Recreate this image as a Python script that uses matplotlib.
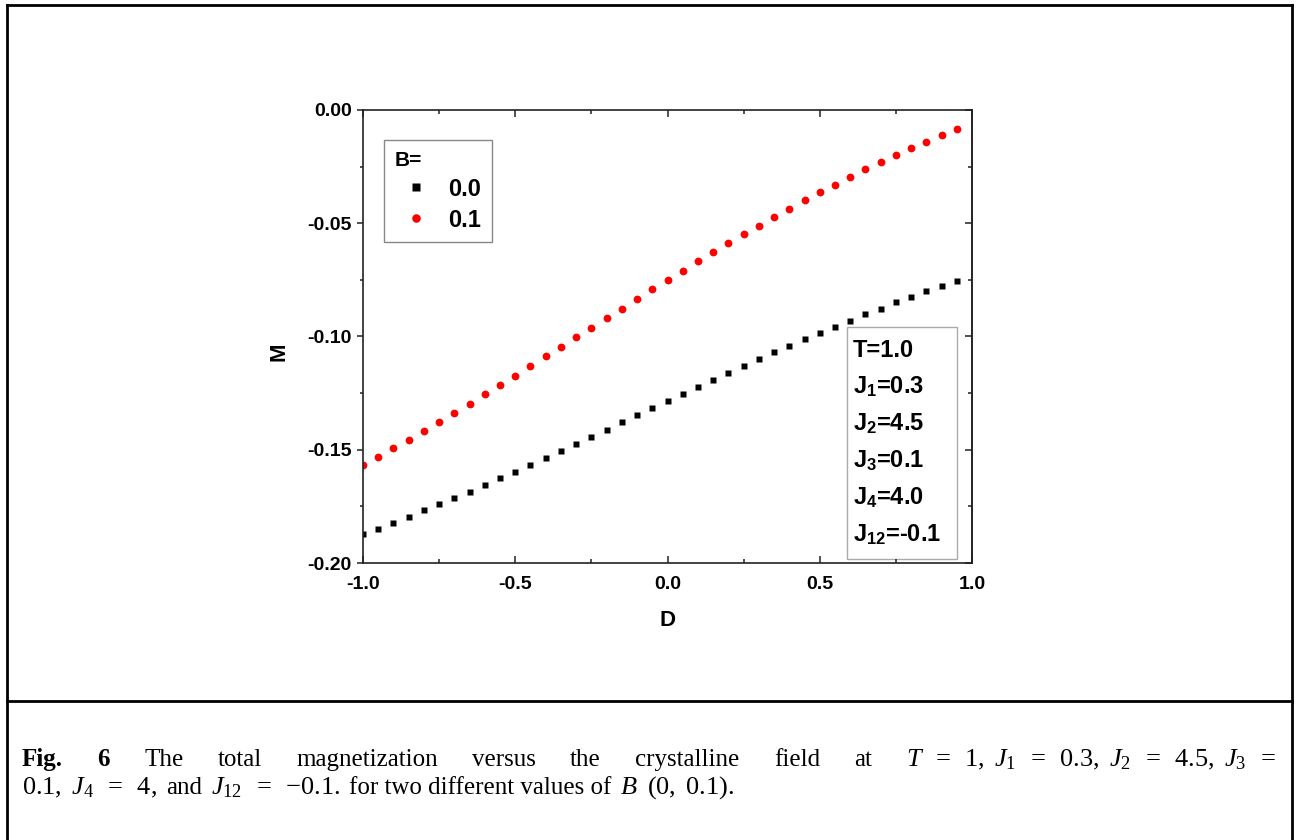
import numpy as np
import matplotlib
matplotlib.use("Agg")
import matplotlib.pyplot as plt
from matplotlib.lines import Line2D
from matplotlib.patches import Rectangle
from matplotlib.ticker import MultipleLocator, FormatStrFormatter

plt.rcParams['font.family'] = 'Liberation Sans'
plt.rcParams['axes.unicode_minus'] = False
plt.rcParams['mathtext.fontset'] = 'custom'
plt.rcParams['mathtext.rm'] = 'Liberation Serif'
plt.rcParams['mathtext.it'] = 'Liberation Serif:italic'
plt.rcParams['mathtext.bf'] = 'Liberation Sans:bold'

# crystalline field D
D = [-1.00, -0.95, -0.90, -0.85, -0.80, -0.75, -0.70, -0.65, -0.60, -0.55,
     -0.50, -0.45, -0.40, -0.35, -0.30, -0.25, -0.20, -0.15, -0.10, -0.05,
     0.00, 0.05, 0.10, 0.15, 0.20, 0.25, 0.30, 0.35, 0.40, 0.45,
     0.50, 0.55, 0.60, 0.65, 0.70, 0.75, 0.80, 0.85, 0.90, 0.95]

# total magnetization, B = 0.0
M_B00 = [-0.1872, -0.1849, -0.1822, -0.1796, -0.1767, -0.1741, -0.1714, -0.1685, -0.1656, -0.1626,
         -0.1597, -0.1566, -0.1535, -0.1504, -0.1473, -0.1443, -0.1412, -0.1379, -0.1348, -0.1316,
         -0.1285, -0.1254, -0.1224, -0.1193, -0.1163, -0.1130, -0.1099, -0.1070, -0.1041, -0.1011,
         -0.0984, -0.0957, -0.0930, -0.0902, -0.0877, -0.0849, -0.0826, -0.0801, -0.0778, -0.0754]

# total magnetization, B = 0.1
M_B01 = [-0.1567, -0.1531, -0.1494, -0.1456, -0.1417, -0.1377, -0.1336, -0.1297, -0.1255, -0.1215,
         -0.1173, -0.1132, -0.1088, -0.1046, -0.1004, -0.0962, -0.0920, -0.0877, -0.0834, -0.0791,
         -0.0751, -0.0709, -0.0668, -0.0627, -0.0589, -0.0547, -0.0511, -0.0472, -0.0436, -0.0397,
         -0.0364, -0.0331, -0.0294, -0.0262, -0.0230, -0.0199, -0.0169, -0.0140, -0.0110, -0.0084]

series_labels = ['0.0', '0.1']
params = ['T=1.0', r'J$_\mathbf{1}$=0.3', r'J$_\mathbf{2}$=4.5', r'J$_\mathbf{3}$=0.1',
          r'J$_\mathbf{4}$=4.0', r'J$_\mathbf{12}$=-0.1']

EQ = r'\;\;=\;\;'
# (text, weight, is_math)
caption_line1 = [('Fig.', 'bold', False), ('6', 'bold', False), ('The', 'normal', False),
                 ('total', 'normal', False), ('magnetization', 'normal', False),
                 ('versus', 'normal', False), ('the', 'normal', False),
                 ('crystalline', 'normal', False), ('field', 'normal', False), ('at', 'normal', False),
                 ('$T' + EQ + r'1,\ J_1' + EQ + r'0.3,\ J_2' + EQ + r'4.5,\ J_3' + EQ + '$',
                  'normal', True)]
caption_line2 = [(r'$0.1,\ J_4' + EQ + '4,$', 'normal', True), ('and', 'normal', False),
                 ('$J_{12}' + EQ + '{-}0.1.$', 'normal', True),
                 ('for two different values of', 'normal', False), ('$B$', 'normal', True),
                 (r'$(0,\ 0.1).$', 'normal', True)]

W, H = 1296, 840
fig = plt.figure(figsize=(W / 100, H / 100), dpi=100)
fig.patch.set_facecolor('white')

# page frame + caption separator
frame_kw = dict(color='black', lw=2.0, transform=fig.transFigure)
fig.add_artist(Line2D([7 / W, 1292 / W], [1 - 5 / H, 1 - 5 / H], **frame_kw))
fig.add_artist(Line2D([7 / W, 7 / W], [0, 1 - 5 / H], **frame_kw))
fig.add_artist(Line2D([1292 / W, 1292 / W], [0, 1 - 5 / H], **frame_kw))
fig.add_artist(Line2D([7 / W, 1292 / W], [1 - 701 / H, 1 - 701 / H], **frame_kw))

ax = fig.add_axes([363 / W, 1 - 563 / H, (972 - 363) / W, (563 - 110) / H])
ax.plot(D, M_B00, 's', color='black', ms=4.6, mec='none', label=series_labels[0])
ax.plot(D, M_B01, 'o', color='red', ms=5.6, mec='none', label=series_labels[1])

ax.set_xlim(-1.0, 1.0)
ax.set_ylim(-0.2, 0.0)
ax.xaxis.set_major_locator(MultipleLocator(0.5))
ax.xaxis.set_minor_locator(MultipleLocator(0.25))
ax.yaxis.set_major_locator(MultipleLocator(0.05))
ax.yaxis.set_minor_locator(MultipleLocator(0.025))
ax.xaxis.set_major_formatter(FormatStrFormatter('%.1f'))
ax.yaxis.set_major_formatter(FormatStrFormatter('%.2f'))

for s in ax.spines.values():
    s.set_linewidth(1.2)
    s.set_color('#222222')

ax.tick_params(axis='x', which='both', direction='in', top=True, width=1.1, color='#222222')
ax.tick_params(axis='x', which='major', length=5, pad=9.5, labelsize=14)
ax.tick_params(axis='x', which='minor', length=3)
ax.tick_params(axis='y', which='both', direction='out', width=1.1, color='#222222')
ax.tick_params(axis='y', which='major', length=4.5, pad=3.5, labelsize=14)
ax.tick_params(axis='y', which='minor', length=2.5)
for lab in ax.get_xticklabels() + ax.get_yticklabels():
    lab.set_fontweight('bold')

sec = ax.secondary_yaxis('right')
sec.yaxis.set_major_locator(MultipleLocator(0.05))
sec.yaxis.set_minor_locator(MultipleLocator(0.025))
sec.tick_params(which='both', direction='in', labelright=False, width=1.1, color='#222222')
sec.tick_params(which='major', length=5)
sec.tick_params(which='minor', length=3)
sec.spines['right'].set_linewidth(1.2)
sec.spines['right'].set_color('#222222')

ax.set_xlabel('D', fontsize=16, fontweight='bold', va='center')
ax.set_ylabel('M', fontsize=16, fontweight='bold', va='center')
ax.xaxis.set_label_coords(0.5, -0.128)
ax.yaxis.set_label_coords(-0.138, 0.466)

leg = ax.legend(title='B=', loc='upper left', bbox_to_anchor=((384 - 363) / 609, (563 - 140) / 453),
                prop={'weight': 'bold', 'size': 17},
                title_fontproperties={'weight': 'bold', 'size': 15},
                frameon=True, fancybox=False, edgecolor='#888888', framealpha=1,
                handlelength=1.83, handletextpad=0.44, borderpad=0.45, labelspacing=0.34,
                borderaxespad=0, alignment='left', markerscale=1.1)
leg.get_frame().set_linewidth(1.0)

# parameter box
ax.add_patch(Rectangle(((847 - 363) / 609, (563 - 559) / 453), (957 - 847) / 609, (559 - 327) / 453,
                       transform=ax.transAxes, fill=False, edgecolor='#aaaaaa', lw=1.0))
for i, p in enumerate(params):
    ax.text((853 - 363) / 609, (563 - (357 + 37 * i)) / 453, p, transform=ax.transAxes,
            fontsize=17, fontweight='bold', va='baseline', ha='left')

# caption
renderer = fig.canvas.get_renderer()
text_size, math_size = 18, 19


def make_run(tokens, y):
    objs = [fig.text(0, 1 - y / H, s, fontsize=math_size if m else text_size,
                     family='Liberation Serif', fontweight=w, va='baseline', ha='left')
            for s, w, m in tokens]
    return objs, [t.get_window_extent(renderer).width for t in objs]


def place(objs, widths, x0, gap):
    x = x0
    for t, w in zip(objs, widths):
        t.set_x(x / W)
        x += w + gap


objs, widths = make_run(caption_line1, 766)
place(objs, widths, 22, ((1276 - 22) - sum(widths)) / (len(objs) - 1))
objs, widths = make_run(caption_line2, 794)
place(objs, widths, 22, 9)

fig.savefig('out.png', dpi=100)
